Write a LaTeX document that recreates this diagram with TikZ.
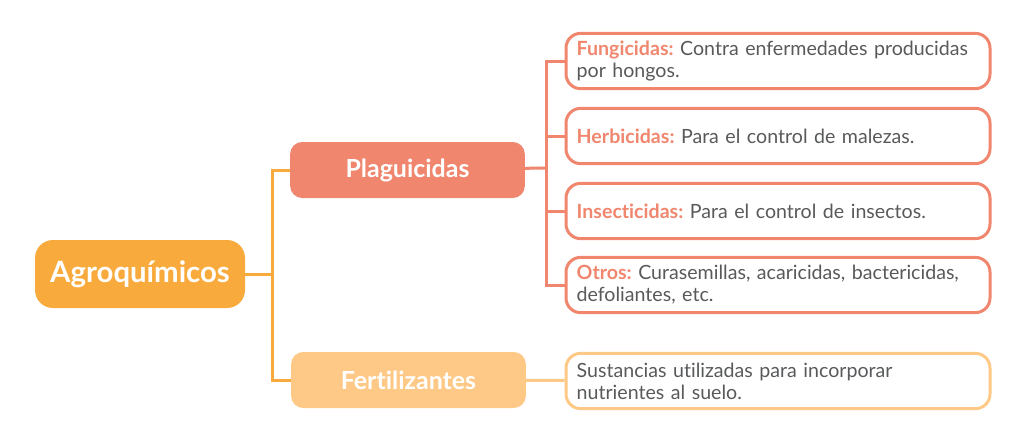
\documentclass[tikz,border=0pt]{standalone}
\usepackage{fontspec}
\setmainfont{Lato}[Ligatures=NoCommon]
\usetikzlibrary{positioning}
\definecolor{agro}{HTML}{F9AA3C}
\definecolor{plag}{HTML}{F0866E}
\definecolor{fert}{HTML}{FEC986}
\definecolor{txt}{HTML}{58595B}
\tikzset{
  main/.style={rounded corners=9pt, text=white, font=\bfseries\fontsize{18.7}{22}\selectfont,
    minimum width=176pt, minimum height=42pt, inner sep=0pt},
  leaf/.style={draw, line width=2.25pt, rounded corners=11pt, text=txt,
    font=\fontsize{14.7}{16.5}\selectfont, align=left, text width=302pt,
    inner xsep=8pt, minimum height=41.5pt, anchor=west},
  lbl/.style={text=plag}
}
\frenchspacing
\begin{document}
\begin{tikzpicture}[x=0.75pt,y=-0.75pt]
\useasboundingbox (0,0) rectangle (1024,440);
\node[main, fill=agro, rounded corners=13.5pt, minimum width=157.5pt, minimum height=51pt,
  font=\bfseries\fontsize{22}{26}\selectfont] (agro) at (140,274) {Agroquímicos};
\node[main, fill=plag] (plag) at (407.5,170) {Plaguicidas};
\node[main, fill=fert] (fert) at (408.5,380) {Fertilizantes};
\node[leaf, draw=plag] (fung) at (564.5,61) {{\color{plag}\bfseries Fungicidas:} Contra enfermedades producidas\\por hongos.};
\node[leaf, draw=plag] (herb) at (564.5,136) {{\color{plag}\bfseries Herbicidas:} Para el control de malezas.};
\node[leaf, draw=plag] (insec) at (564.5,211) {{\color{plag}\bfseries Insecticidas:} Para el control de insectos.};
\node[leaf, draw=plag] (otros) at (564.5,285) {{\color{plag}\bfseries Otros:} Curasemillas, acaricidas, bactericidas,\\defoliantes, etc.};
\node[leaf, draw=fert] (sust) at (564.5,381) {Sustancias utilizadas para incorporar\\nutrientes al suelo.};
\coordinate (j1) at (272,274);
\coordinate (j2) at (546,168);
\draw[agro, line width=2.25pt] (agro) -- (j1);
\draw[agro, line width=2.25pt] (plag.west) -| (j1) |- (fert.west);
\draw[plag, line width=2.25pt] (plag) -- (j2);
\foreach \n in {fung,herb,insec,otros}
  \draw[plag, line width=2.25pt] (j2) |- (\n.west);
\draw[fert, line width=2.25pt] (fert) -- (sust);
\end{tikzpicture}
\end{document}
